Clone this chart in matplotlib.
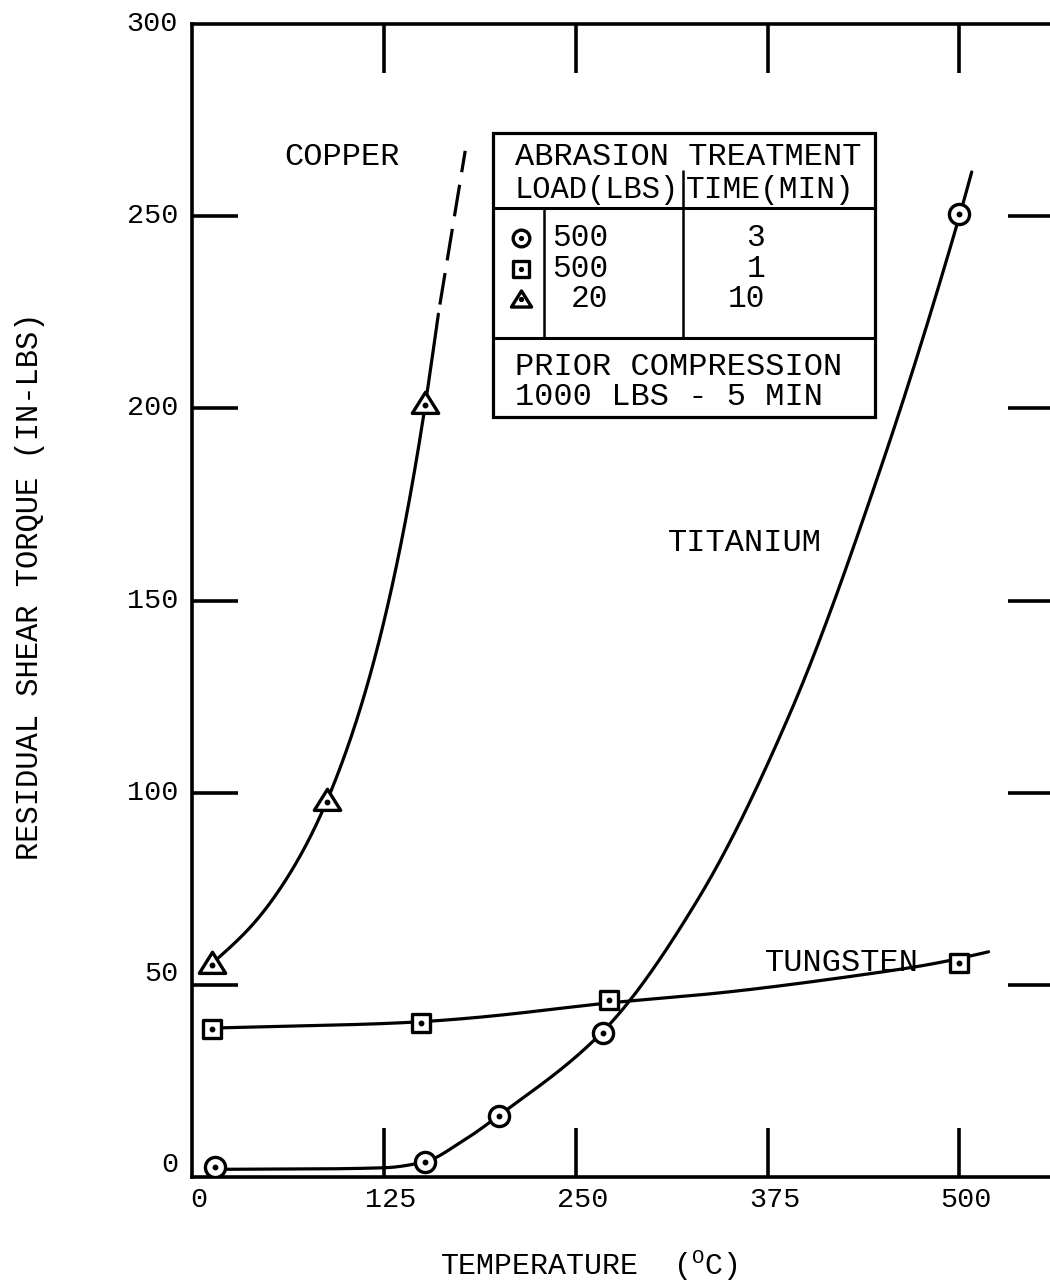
import numpy as np
import matplotlib
matplotlib.use("Agg")
import matplotlib.pyplot as plt
from matplotlib.path import Path
from matplotlib.markers import MarkerStyle
from matplotlib.lines import Line2D
from matplotlib.patches import Rectangle

plt.rcParams['font.family'] = ['Liberation Mono', 'DejaVu Sans Mono']
plt.rcParams['mathtext.fontset'] = 'custom'
plt.rcParams['mathtext.rm'] = 'Liberation Mono'
plt.rcParams['mathtext.it'] = 'Liberation Mono'

# ---- measured points -------------------------------------------------------
# Titanium: 500 lb abrasion load, 3 min (circles)
ti_temp = [15, 152, 200, 268, 500]
ti_torque = [2.5, 4, 16, 37.5, 250.5]
# Tungsten: 500 lb abrasion load, 1 min (squares)
w_temp = [13, 149, 272, 500]
w_torque = [38.5, 40, 46, 55.7]
# Copper: 20 lb abrasion load, 10 min (triangles)
cu_temp = [13, 88, 152]
cu_torque = [55.6, 98, 201.3]

# ---- hand-faired curves through the data ----------------------------------
ti_curve_temp = [18, 80, 125, 152, 175, 200, 268, 330, 390, 450, 500, 508]
ti_curve_torque = [2.0, 2.1, 2.4, 4.0, 9.0, 16.0, 38.0, 72.5, 121.0, 186.0,
                   250.0, 261.5]
w_curve_temp = [18, 80, 149, 210, 272, 331, 396, 440, 492, 519]
w_curve_torque = [38.8, 39.4, 40.4, 42.5, 45.3, 47.4, 50.4, 52.8, 56.2, 58.6]
cu_curve_temp = [16, 40, 60, 80, 100, 120, 140, 152, 160.5]
cu_curve_torque = [56.6, 65.9, 76.6, 90.9, 110.3, 136.5, 172.7, 201.0, 224.5]
# extrapolated (dashed) part of the copper curve
cu_ext_temp = [161.5, 178]
cu_ext_torque = [227, 267]

# ---- axes ticks / labels ---------------------------------------------------
x_tick_values = [0, 125, 250, 375, 500]
y_tick_values = [0, 50, 100, 150, 200, 250, 300]
x_label = r'TEMPERATURE  ($^{\mathrm{O}}$C)'
y_label = 'RESIDUAL SHEAR TORQUE (IN-LBS)'

# table contents
table_head1 = 'ABRASION TREATMENT'
table_head2a = 'LOAD(LBS)'
table_head2b = 'TIME(MIN)'
table_loads = ['500', '500', '20']
table_times = ['3', '1', '10']
table_note1 = 'PRIOR COMPRESSION'
table_note2 = '1000 LBS - 5 MIN'


def _hermite(x, y, h, m, n):
    xx = np.linspace(x[0], x[-1], n)
    k = np.clip(np.searchsorted(x, xx) - 1, 0, len(x) - 2)
    t = (xx - x[k]) / h[k]
    h00 = 2 * t**3 - 3 * t**2 + 1
    h10 = t**3 - 2 * t**2 + t
    h01 = -2 * t**3 + 3 * t**2
    h11 = t**3 - t**2
    yy = h00 * y[k] + h10 * h[k] * m[k] + h01 * y[k + 1] + h11 * h[k] * m[k + 1]
    return xx, yy


def fair_monotone(xs, ys, n=400):
    """Monotone cubic Hermite curve through the given points."""
    x = np.asarray(xs, float)
    y = np.asarray(ys, float)
    h = np.diff(x)
    d = np.diff(y) / h
    m = np.empty_like(y)
    m[0], m[-1] = d[0], d[-1]
    for i in range(1, len(x) - 1):
        if d[i - 1] * d[i] <= 0:
            m[i] = 0.0
        else:
            w1 = 2 * h[i] + h[i - 1]
            w2 = h[i] + 2 * h[i - 1]
            m[i] = (w1 + w2) / (w1 / d[i - 1] + w2 / d[i])
    return _hermite(x, y, h, m, n)


def fair_spline(xs, ys, n=400):
    """Natural cubic spline through the given points."""
    x = np.asarray(xs, float)
    y = np.asarray(ys, float)
    N = len(x)
    h = np.diff(x)
    A = np.zeros((N, N))
    r = np.zeros(N)
    A[0, 0] = A[-1, -1] = 1.0
    for i in range(1, N - 1):
        A[i, i - 1] = h[i - 1]
        A[i, i] = 2 * (h[i - 1] + h[i])
        A[i, i + 1] = h[i]
        r[i] = 6 * ((y[i + 1] - y[i]) / h[i] - (y[i] - y[i - 1]) / h[i - 1])
    M = np.linalg.solve(A, r)
    xx = np.linspace(x[0], x[-1], n)
    k = np.clip(np.searchsorted(x, xx) - 1, 0, N - 2)
    a = x[k + 1] - xx
    b = xx - x[k]
    hk = h[k]
    yy = (M[k] * a**3 / (6 * hk) + M[k + 1] * b**3 / (6 * hk)
          + (y[k] / hk - M[k] * hk / 6) * a + (y[k + 1] / hk - M[k + 1] * hk / 6) * b)
    return xx, yy


fig = plt.figure(figsize=(10.5, 12.83), dpi=100)
ax = fig.add_axes([192 / 1050, 106 / 1283, 862 / 1050, 1153 / 1283])
ax.set_xlim(0, 561.6)
ax.set_ylim(0, 300)

for sp in ax.spines.values():
    sp.set_linewidth(2.6)

ax.set_xticks(x_tick_values[1:])
ax.set_yticks(y_tick_values[1:-1])
ax.tick_params(axis='x', direction='in', top=True, bottom=True,
               length=35, width=2.6, labelbottom=False)
ax.tick_params(axis='y', direction='in', left=True, right=True,
               length=33, width=2.6, labelleft=False)

# tick labels
for v in x_tick_values:
    ax.annotate(str(v), xy=(v, 0), xycoords=('data', 'axes fraction'),
                xytext=(5, -16.5), textcoords='offset points',
                ha='center', va='center', fontsize=20.5, annotation_clip=False)
y_nudge = {0: 8.5, 50: 8}
for v in y_tick_values:
    ax.annotate(str(v), xy=(0, v), xycoords=('axes fraction', 'data'),
                xytext=(-10, y_nudge.get(v, 0)), textcoords='offset points',
                ha='right', va='center', fontsize=20.5, annotation_clip=False)

fig.text(589 / 1050, 1 - 1265 / 1283, x_label, ha='center', va='center',
         fontsize=21.5)
fig.text(30 / 1050, 1 - 586 / 1283, y_label, ha='center', va='center',
         rotation=90, fontsize=22)

# curves
line_kw = dict(color='black', lw=2.3, solid_capstyle='round', zorder=2)
ax.plot(*fair_monotone(ti_curve_temp, ti_curve_torque), **line_kw)
ax.plot(*fair_spline(w_curve_temp, w_curve_torque), **line_kw)
ax.plot(*fair_spline(cu_curve_temp, cu_curve_torque), **line_kw)
ax.plot(cu_ext_temp, cu_ext_torque, color='black', lw=2.3, dashes=(10, 4),
        zorder=2)

# markers
tri_path = Path([(0, 0.85), (-1, -0.75), (1, -0.75), (0, 0.85)],
                [Path.MOVETO, Path.LINETO, Path.LINETO, Path.CLOSEPOLY])
circle_m = MarkerStyle('o')
square_m = MarkerStyle('s', joinstyle='round')
tri_m = MarkerStyle(tri_path, joinstyle='round')

mk = dict(ls='none', mfc='white', mec='black', zorder=4)
ax.plot(ti_temp, ti_torque, marker=circle_m, ms=14.5, mew=2.4, **mk)
ax.plot(w_temp, w_torque, marker=square_m, ms=12.5, mew=2.4, **mk)
ax.plot(cu_temp, cu_torque, marker=tri_m, ms=19, mew=2.4, **mk)
dot = dict(ls='none', marker='o', ms=3.2, color='black', zorder=5)
ax.plot(ti_temp, ti_torque, **dot)
ax.plot(w_temp, w_torque, **dot)
ax.plot(cu_temp, np.asarray(cu_torque) - 0.5, **dot)

# curve names
ax.text(60, 265.4, 'COPPER', fontsize=23, ha='left', va='center')
ax.text(310, 165, 'TITANIUM', fontsize=23, ha='left', va='center')
ax.text(373, 55.6, 'TUNGSTEN', fontsize=23, ha='left', va='center', zorder=1)


# key table (axes-fraction coordinates)
def px(xp, yp):
    return (xp - 192) / 862, (1177 - yp) / 1153


T = ax.transAxes
x0, y0 = px(493, 417)
x1, y1 = px(875, 133)
ax.add_patch(Rectangle((x0, y0), x1 - x0, y1 - y0, transform=T,
                       facecolor='white', edgecolor='black', lw=2.3, zorder=6))


def seg(a, b, lw=2.2):
    (xa, ya), (xb, yb) = px(*a), px(*b)
    ax.add_line(Line2D([xa, xb], [ya, yb], transform=T, color='black',
                       lw=lw, zorder=7, solid_capstyle='butt'))


seg((493, 208), (875, 208))
seg((493, 338), (875, 338))
seg((683, 170), (683, 338), lw=1.8)
seg((544, 208), (544, 338), lw=1.8)

tkw = dict(transform=T, va='center', zorder=8)
ax.text(*px(515, 157), table_head1, ha='left', fontsize=23, **tkw)
ax.text(*px(514, 190), table_head2a, ha='left', fontsize=22, **tkw)
ax.text(*px(686, 190), table_head2b, ha='left', fontsize=22.5, **tkw)
row_y = [238, 269, 299]
for ry, load, tm in zip(row_y, table_loads, table_times):
    ax.text(*px(608, ry), load, ha='right', fontsize=22.5, **tkw)
    ax.text(*px(765, ry), tm, ha='right', fontsize=22.5, **tkw)
ax.text(*px(515, 367), table_note1, ha='left', fontsize=23, **tkw)
ax.text(*px(515, 397), table_note2, ha='left', fontsize=23, **tkw)

key_markers = [(circle_m, 12), (square_m, 11), (tri_m, 14.5)]
for ry, (m, s) in zip(row_y, key_markers):
    kx, ky = px(521, ry)
    ax.plot([kx], [ky], transform=T, marker=m, ms=s, mew=2.4, mfc='white',
            mec='black', ls='none', zorder=8, clip_on=False)
    ax.plot([kx], [ky], transform=T, marker='o', ms=2.8, color='black',
            ls='none', zorder=9, clip_on=False)

fig.savefig('out.png', dpi=100, facecolor='white')
